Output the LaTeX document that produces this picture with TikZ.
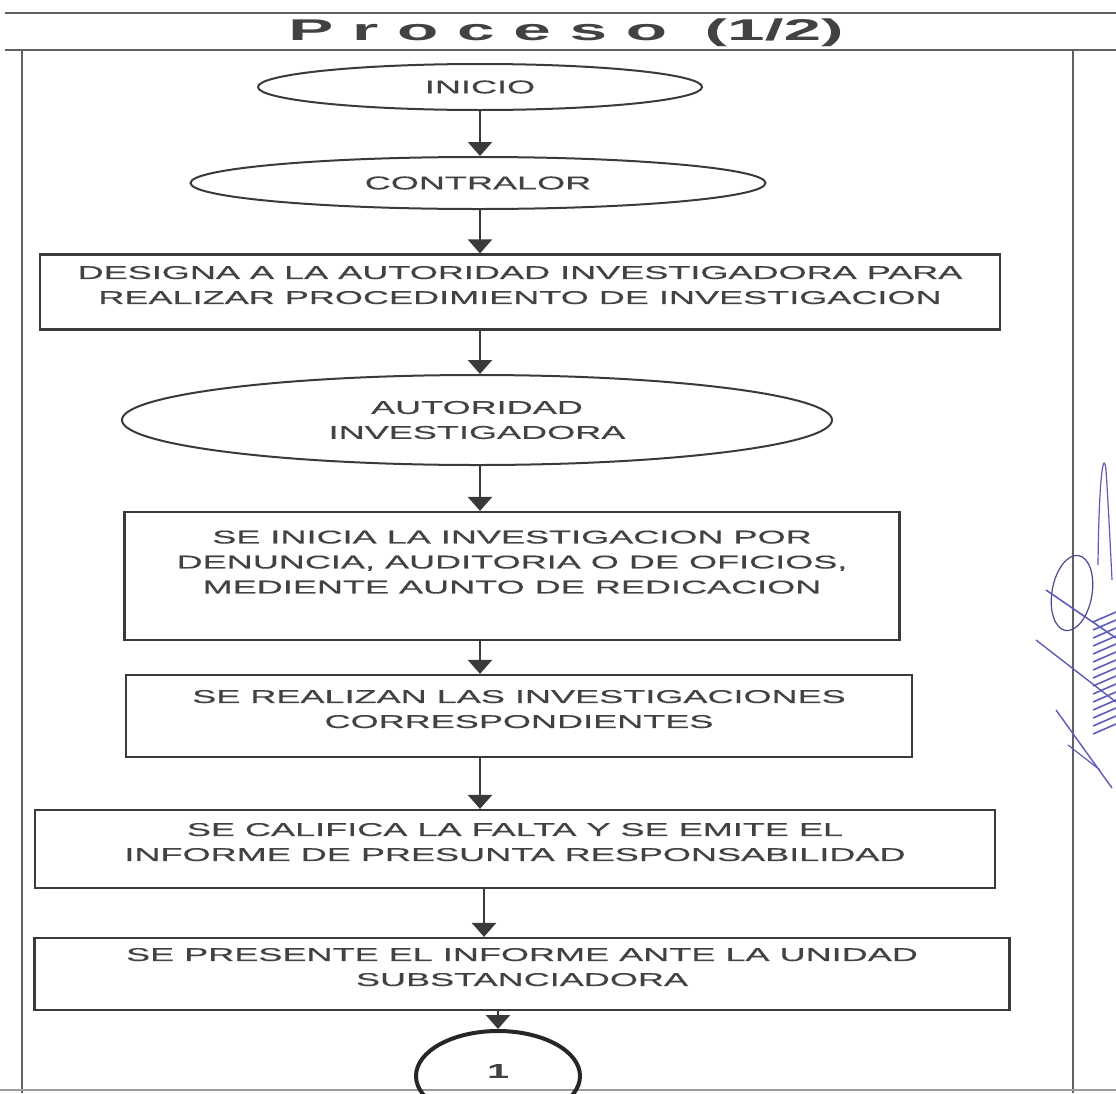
\documentclass[tikz,border=0pt]{standalone}
\usepackage{fontspec}
\setmainfont{Liberation Sans}
\newfontfamily\flujo[FakeStretch=1.95,FakeBold=0.4]{Liberation Sans}
\newfontfamily\titulo[FakeStretch=2.25]{Liberation Sans}
\usetikzlibrary{arrows.meta,shapes.geometric,positioning}

\definecolor{tinta}{HTML}{424242}
\definecolor{linea}{HTML}{3A3A3A}
\definecolor{firma}{HTML}{5C5CB8}

\tikzset{
	caja/.style={draw=linea, line width=2.2pt, align=center, inner sep=0pt,
		font=\flujo\fontsize{18.5}{25}\selectfont, text=tinta, text depth=14pt},
	elipse/.style={ellipse, draw=linea, line width=2pt, align=center, inner sep=0pt,
		font=\flujo\fontsize{18.5}{25}\selectfont, text=tinta},
	flecha/.style={draw=linea, line width=2.4pt, -{Triangle[length=14pt,width=24pt]}},
	marco/.style={draw=linea!80, line width=2.6pt}
}

\begin{document}
\begin{tikzpicture}[x=1pt,y=-1pt]
	\useasboundingbox (0,0) rectangle (1116,1093);
	\begin{scope}
		\clip (0,0) rectangle (1116,1093);
		
		% marco y titulo
		\draw[marco] (5,13) -- (1116,13);
		\draw[marco] (5,50) -- (1116,50);
		\draw[marco] (22,50) -- (22,1093);
		\draw[marco] (1073,50) -- (1073,1093);
		\draw[marco, draw=linea!50] (0,1090) -- (1116,1090);
		\node[text=tinta, font=\titulo\bfseries\fontsize{30}{30}\selectfont] (titulo) at (566,33) {P r o c e s o \ (1/2)};
		
		% nodos
		\node[elipse, minimum width=444pt, minimum height=46pt] (inicio) at (480,87) {INICIO};
		\node[elipse, minimum width=575pt, minimum height=52pt] (contralor) at (478,183) {CONTRALOR};
		\node[caja, minimum width=960pt, minimum height=75pt] (designa) at (520,292)
			{DESIGNA A LA AUTORIDAD INVESTIGADORA PARA\\REALIZAR PROCEDIMIENTO DE INVESTIGACION};
		\node[elipse, minimum width=710pt, minimum height=90pt] (autoridad) at (477,420)
			{AUTORIDAD\\INVESTIGADORA};
		\node[caja, minimum width=775pt, minimum height=128pt, text depth=28pt] (inicia) at (512,576)
			{SE INICIA LA INVESTIGACION POR\\DENUNCIA, AUDITORIA O DE OFICIOS,\\MEDIENTE AUNTO DE REDICACION};
		\node[caja, minimum width=786pt, minimum height=82pt] (realizan) at (519,716)
			{SE REALIZAN LAS INVESTIGACIONES\\CORRESPONDIENTES};
		\node[caja, minimum width=960pt, minimum height=78pt] (califica) at (515,849)
			{SE CALIFICA LA FALTA Y SE EMITE EL\\INFORME DE PRESUNTA RESPONSABILIDAD};
		\node[caja, minimum width=975pt, minimum height=72pt] (presenta) at (522,974)
			{SE PRESENTE EL INFORME ANTE LA UNIDAD\\SUBSTANCIADORA};
		\node[ellipse, draw=black!85, line width=4pt, minimum width=164pt, minimum height=90pt,
			font=\flujo\bfseries\fontsize{20}{20}\selectfont, text=tinta, text depth=10pt] (uno) at (498,1076) {1};
		
		% conectores
		\coordinate (eje) at (480,0);
		\draw[flecha] (eje |- inicio.south) -- (eje |- contralor.north);
		\draw[flecha] (eje |- contralor.south) -- (eje |- designa.north);
		\draw[flecha] (eje |- designa.south) -- (eje |- autoridad.north);
		\draw[flecha] (eje |- autoridad.south) -- (eje |- inicia.north);
		\draw[flecha] (eje |- inicia.south) -- (eje |- realizan.north);
		\draw[flecha] (eje |- realizan.south) -- (eje |- califica.north);
		\draw[flecha] ([xshift=4pt]eje |- califica.south) -- ([xshift=4pt]eje |- presenta.north);
		\draw[flecha] (uno.north |- presenta.south) -- (uno.north);
		
		% firma
		\draw[firma, line width=1.2pt] (1098,565) .. controls (1099,470) and (1104,450) .. (1106,470)
			.. controls (1108,500) and (1110,540) .. (1112,580);
		\draw[firma!80!black, line width=1.2pt, rotate around={-10:(1072,593)}] (1072,593) ellipse (20 and 38);
		\draw[firma, line width=1.6pt] (1046,590) -- (1116,638);
		\draw[firma, line width=1.4pt] (1036,640) -- (1116,702);
		\draw[firma, line width=1.4pt] (1056,710) -- (1112,788);
		\draw[firma, line width=1.2pt] (1068,745) -- (1100,770);
		\foreach \k in {0,...,14}
			\draw[firma, line width=1.6pt] (1093,622+8*\k) -- (1116,612+8*\k);
	\end{scope}
\end{tikzpicture}
\end{document}
